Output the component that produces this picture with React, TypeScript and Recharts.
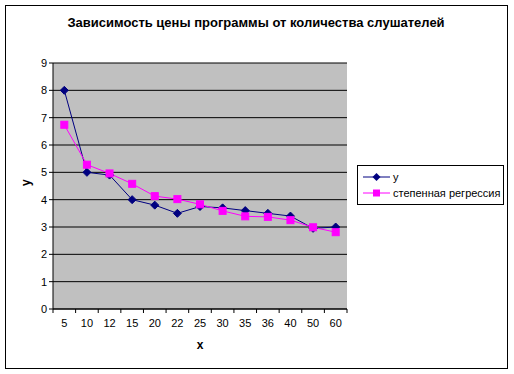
import React from 'react';
import { LineChart, Line, XAxis, YAxis, CartesianGrid, Label } from 'recharts';

const categories = ['5', '10', '12', '15', '20', '22', '25', '30', '35', '36', '40', '50', '60'];
const yValues = [8, 5, 4.9, 4, 3.8, 3.5, 3.75, 3.7, 3.6, 3.5, 3.4, 2.95, 3];
const regressionValues = [6.74, 5.28, 4.96, 4.58, 4.13, 4.02, 3.83, 3.59, 3.39, 3.37, 3.25, 2.99, 2.81];
const yTicks = [0, 1, 2, 3, 4, 5, 6, 7, 8, 9];
const seriesNames = ['у', 'степенная регрессия'];

const data = categories.map((c, i) => ({ x: c, y: yValues[i], reg: regressionValues[i] }));

const BLUE = '#000080';
const PINK = '#FF00FF';
const FONT = '"Liberation Sans", Arial, sans-serif';
const PLOT_W = 294;
const BAND = PLOT_W / categories.length;

const Diamond = (props: any) => {
  const { cx, cy } = props;
  if (cx == null || cy == null) return null;
  const r = 4;
  return (
    <polygon
      key={`d-${props.index}`}
      points={`${cx},${cy - r} ${cx + r},${cy} ${cx},${cy + r} ${cx - r},${cy}`}
      fill={BLUE}
      stroke={BLUE}
    />
  );
};

const Square = (props: any) => {
  const { cx, cy } = props;
  if (cx == null || cy == null) return null;
  const r = 3.5;
  return <rect key={`s-${props.index}`} x={cx - r} y={cy - r} width={2 * r} height={2 * r} fill={PINK} stroke={PINK} />;
};

const XTick = (props: any) => {
  const { x, y, payload, index } = props;
  return (
    <g>
      {index === 0 && <line x1={x - BAND / 2} y1={y - 8} x2={x - BAND / 2} y2={y - 4} stroke="#000" />}
      <line x1={x + BAND / 2} y1={y - 8} x2={x + BAND / 2} y2={y - 4} stroke="#000" />
      <text x={x} y={y + 10} textAnchor="middle" fontFamily={FONT} fontSize={11} fill="#000">
        {payload.value}
      </text>
    </g>
  );
};

const LegendBox = () => (
  <svg width={148} height={41} style={{ display: 'block' }}>
    <rect x={0.5} y={0.5} width={146} height={39} fill="#fff" stroke="#000" />
    <line x1={6} y1={12} x2={33} y2={12} stroke={BLUE} strokeWidth={1} />
    <polygon points="19.5,8 23.5,12 19.5,16 15.5,12" fill={BLUE} />
    <text x={36} y={16} fontFamily={FONT} fontSize={11} fill="#000">{seriesNames[0]}</text>
    <line x1={6} y1={28} x2={33} y2={28} stroke={PINK} strokeWidth={1} />
    <rect x={16} y={24.5} width={7} height={7} fill={PINK} />
    <text x={36} y={32} fontFamily={FONT} fontSize={11} fill="#000">{seriesNames[1]}</text>
  </svg>
);

export default function App() {
  return (
    <div style={{ position: 'absolute', left: 0, top: 0, width: 514, height: 374, background: '#fff' }}>
      <svg width={514} height={374} style={{ position: 'absolute', left: 0, top: 0 }}>
        <rect x={5.5} y={5.5} width={502} height={363} fill="#fff" stroke="#000" strokeWidth={1} />
        <text x={256} y={27} textAnchor="middle" fontFamily={FONT} fontSize={13} fontWeight="bold" fill="#000">
          Зависимость цены программы от количества слушателей
        </text>
      </svg>
      <div style={{ position: 'absolute', left: 0, top: 0 }}>
        <LineChart
          width={514}
          height={374}
          data={data}
          margin={{ top: 63, right: 167, bottom: 45, left: 13 }}
        >
          <CartesianGrid vertical={false} stroke="#000" strokeWidth={1} fill="#C0C0C0" fillOpacity={1} horizontalValues={yTicks} />
          <XAxis
            dataKey="x"
            height={20}
            axisLine={{ stroke: '#000' }}
            tickLine={false}
            tick={<XTick />}
            interval={0}
            padding={{ left: BAND / 2, right: BAND / 2 }}
          >
            <Label value="x" position="insideBottom" offset={-20} fontFamily={FONT} fontSize={12} fontWeight="bold" fill="#000" />
          </XAxis>
          <YAxis
            width={40}
            domain={[0, 9]}
            ticks={yTicks}
            interval={0}
            axisLine={{ stroke: '#000' }}
            tickLine={{ stroke: '#000' }}
            tickSize={4}
            tick={{ fontFamily: FONT, fontSize: 11, fill: '#000' }}
          >
            <Label value="у" angle={-90} position="insideLeft" offset={13} fontFamily={FONT} fontSize={12} fontWeight="bold" fill="#000" />
          </YAxis>
          <Line
            dataKey="y"
            name={seriesNames[0]}
            stroke={BLUE}
            strokeWidth={1}
            dot={Diamond}
            activeDot={false}
            isAnimationActive={false}
          />
          <Line
            dataKey="reg"
            name={seriesNames[1]}
            stroke={PINK}
            strokeWidth={1}
            dot={Square}
            activeDot={false}
            isAnimationActive={false}
          />
        </LineChart>
      </div>
      <div style={{ position: 'absolute', left: 357, top: 165 }}>
        <LegendBox />
      </div>
    </div>
  );
}
